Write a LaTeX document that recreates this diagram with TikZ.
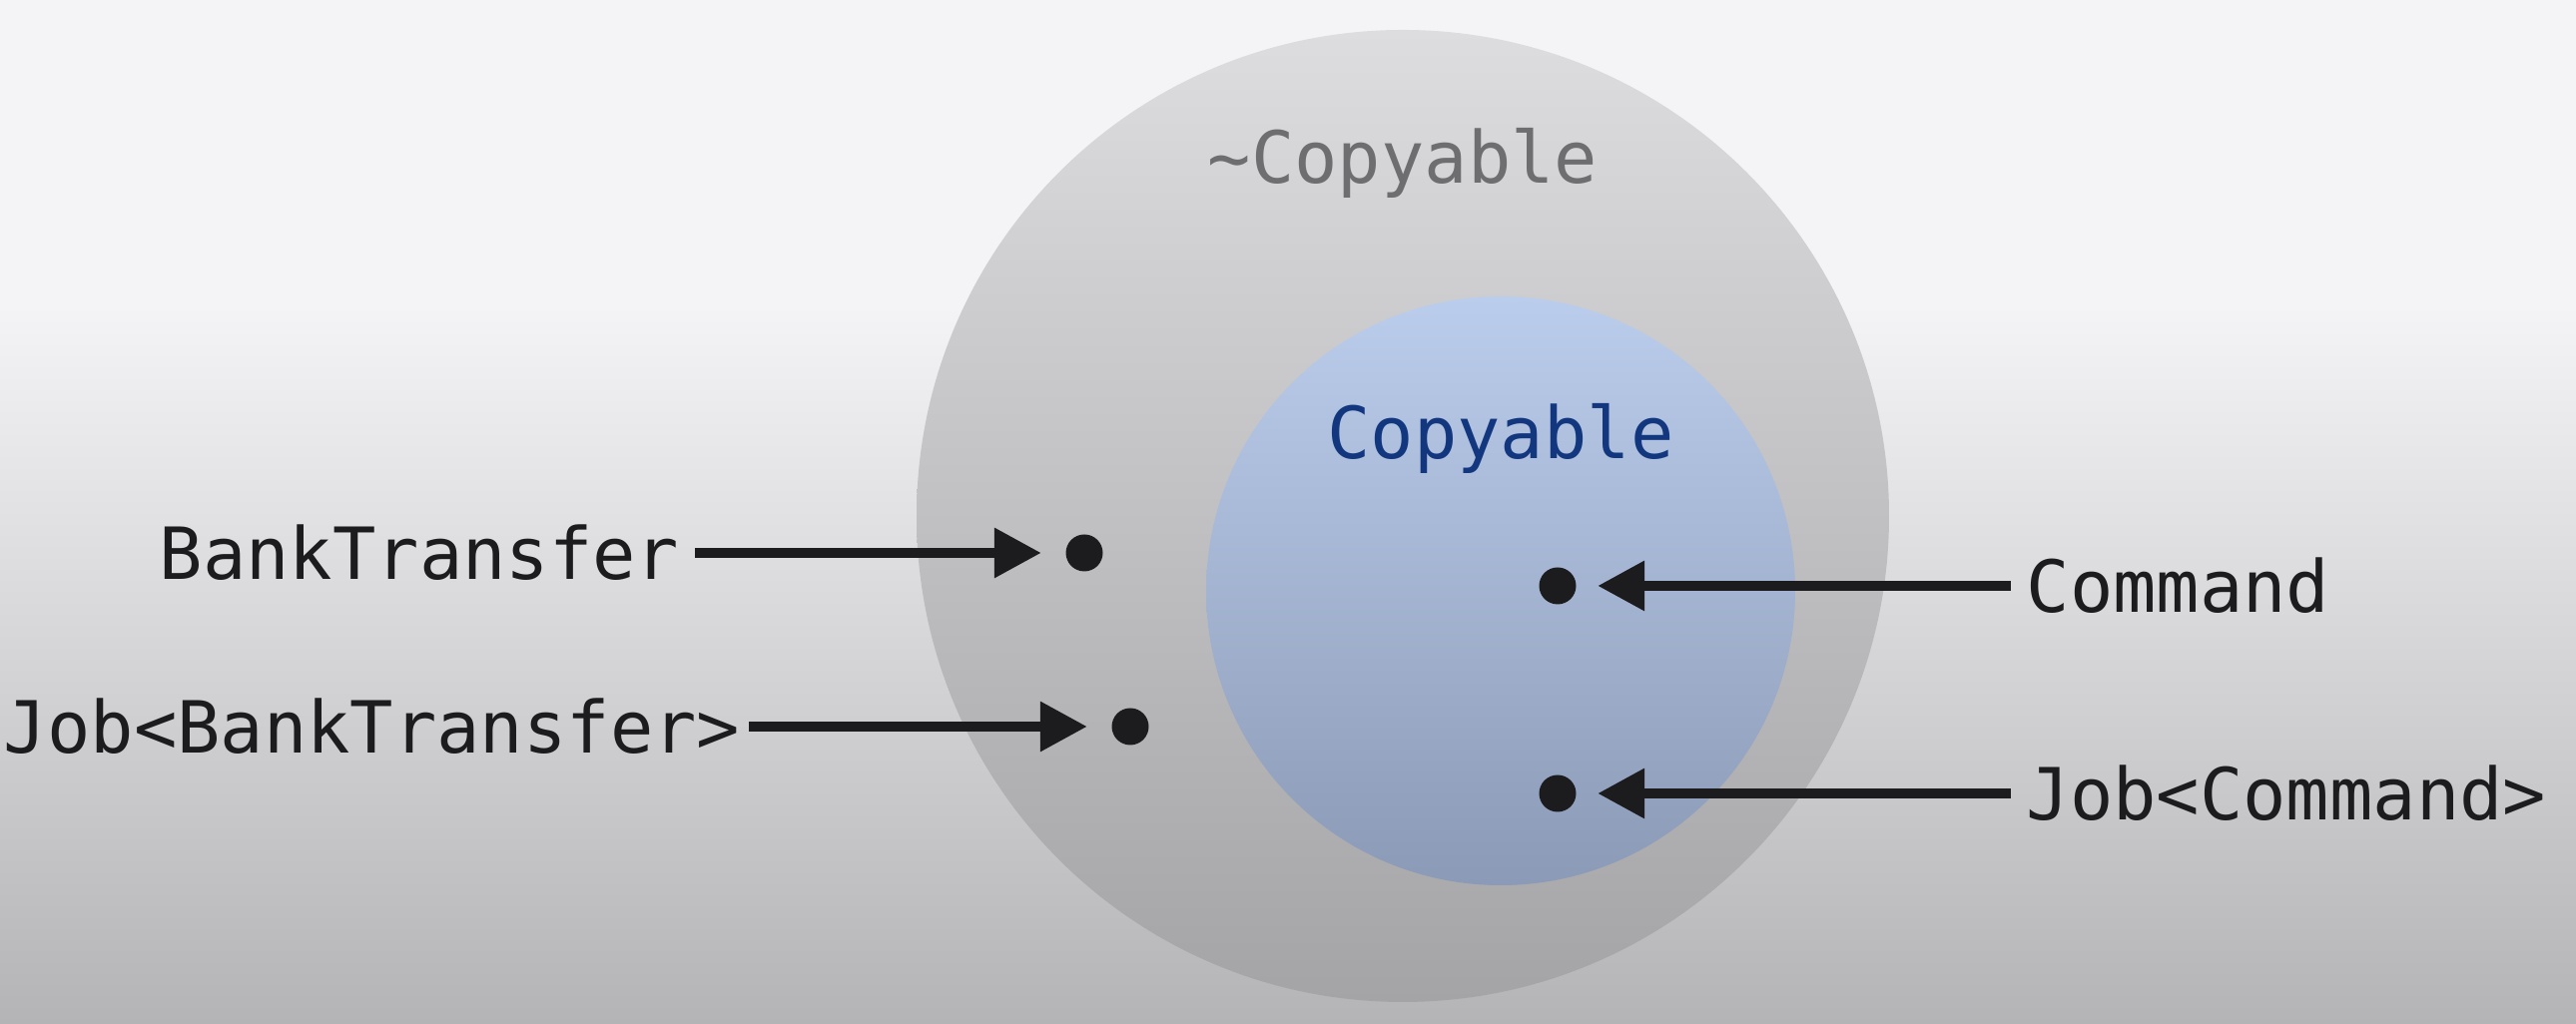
\documentclass[tikz,border=0pt]{standalone}
\usepackage{fontspec}
\setmonofont{DejaVu Sans Mono}
\usepackage{xcolor}
\usetikzlibrary{arrows.meta}
\definecolor{bgtop}{HTML}{F4F4F6}
\definecolor{bgbot}{HTML}{B4B4B6}
\definecolor{outertop}{HTML}{DDDDDF}
\definecolor{outerbot}{HTML}{A4A4A6}
\definecolor{innertop}{HTML}{BBCDEC}
\definecolor{innerbot}{HTML}{8B9AB6}
\definecolor{setgray}{HTML}{6E6E70}
\definecolor{setblue}{HTML}{13377F}
\definecolor{ink}{HTML}{1C1C1E}
\tikzstyle{typename}=[inner xsep=0.15cm, inner ysep=0pt, text height=0.525cm, text depth=0pt, text=ink, font=\fontsize{20.5}{24}\selectfont\ttfamily]
\tikzstyle{setname}=[typename, inner xsep=0pt]
\tikzstyle{member}=[circle, fill=ink, inner sep=0pt, minimum size=0.37cm]
\tikzstyle{pointer}=[draw=ink, line width=2.8pt, -{Triangle[length=0.47cm, width=0.48cm]}]

\begin{document}
\begin{tikzpicture}
        \useasboundingbox (0,0) rectangle (25.8,10.26);
        % backdrop and the two sets
        \fill[bgtop] (0,0) rectangle (25.8,10.26);
        \shade[top color=bgtop, bottom color=bgbot] (0,0) rectangle (25.8,7.2);
        \shade[top color=outertop, bottom color=outerbot] (14.05,5.09) circle (4.87);
        \shade[top color=innertop, bottom color=innerbot] (15.03,4.34) circle (2.95);
        \node[setname, text=setgray] (noncopy) at (14.05,8.69) {\textasciitilde Copyable};
        \node[setname, text=setblue] (copy) at (15.03,5.93) {Copyable};
        % members
        \node[member] (mBank) at (10.86,4.72) {}; \node[member] (mJobBank) at (11.32,2.98) {};
        \node[member] (mCmd) at (15.60,4.39) {}; \node[member] (mJobCmd) at (15.60,2.31) {};
        % type names
        \node[typename, anchor=east] (tBank) at (6.96,4.72) {BankTransfer};
        \node[typename, anchor=east, inner xsep=0.08cm] (tJobBank) at (7.50,2.98) {Job<BankTransfer>};
        \node[typename, anchor=west] (tCmd) at (20.14,4.39) {Command};
        \node[typename, anchor=west] (tJobCmd) at (20.14,2.31) {Job<Command>};
        \draw[pointer, shorten >=0.24cm] (tBank.east) -- (mBank); \draw[pointer, shorten >=0.24cm] (tJobBank.east) -- (mJobBank);
        \draw[pointer, shorten >=0.21cm] (tCmd.west) -- (mCmd); \draw[pointer, shorten >=0.21cm] (tJobCmd.west) -- (mJobCmd);
    \end{tikzpicture}
\end{document}
